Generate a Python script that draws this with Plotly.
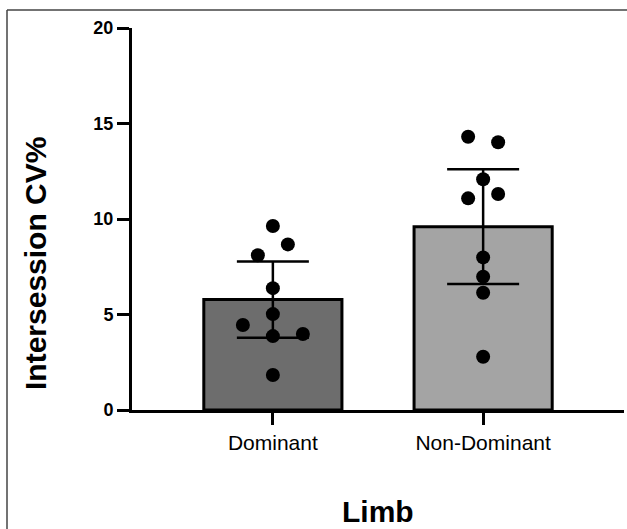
import numpy as np
import plotly.graph_objects as go

# ---- data ----
categories = ["Dominant", "Non-Dominant"]
bar_means = [5.78, 9.6]
bar_sd = [2.0, 3.0]
dominant_values = [9.63, 8.67, 8.10, 6.38, 5.02, 4.45, 3.87, 3.98, 1.83]
nondominant_values = [14.31, 14.02, 12.08, 11.08, 11.31, 7.99, 6.98, 6.14, 2.79]
# swarm slot of each dot (in marker-width steps left/right of the category centre)
dominant_slots = [0, 1, -1, 0, 0, -2, 0, 2, 0]
nondominant_slots = [-1, 1, 0, -1, 1, 0, 0, 0, 0]
y_ticks = [0, 5, 10, 15, 20]

W, H = 627, 529
L, R, T, B = 132, 3, 28, 119
plot_w = W - L - R
plot_h = H - T - B
x_range = [-0.67, 1.67]
px_per_unit = plot_w / (x_range[1] - x_range[0])
slot_step = 15 / px_per_unit

def px_to_paper_x(px):
    return (px - L) / plot_w

def py_to_paper_y(py):
    return (H - B - py) / plot_h

fig = go.Figure()
xs = list(range(len(categories)))
fig.add_trace(go.Bar(
    x=xs, y=bar_means, width=0.657,
    marker=dict(color=["#6d6d6d", "#a4a4a4"], line=dict(color="black", width=3)),
    error_y=dict(type="data", array=bar_sd, visible=True, color="black",
                 thickness=2.5, width=36),
    showlegend=False, hoverinfo="skip",
))

for i, (vals, slots) in enumerate([(dominant_values, dominant_slots),
                                   (nondominant_values, nondominant_slots)]):
    fig.add_trace(go.Scatter(
        x=[i + s * slot_step for s in slots], y=vals, mode="markers",
        marker=dict(color="black", size=14, line=dict(width=0)),
        showlegend=False,
    ))

fig.update_layout(
    width=W, height=H,
    margin=dict(l=L, r=R, t=T, b=B, autoexpand=False),
    paper_bgcolor="white", plot_bgcolor="white",
    font=dict(family="Liberation Sans, Arial, sans-serif", color="black"),
    xaxis=dict(range=x_range, tickvals=xs, ticktext=categories,
               showline=True, linewidth=3, linecolor="black",
               ticks="outside", ticklen=12, tickwidth=3, tickcolor="black",
               showgrid=False, zeroline=False,
               tickfont=dict(size=21, family="Liberation Sans")),
    yaxis=dict(range=[0, 20], tickvals=y_ticks,
               showline=True, linewidth=3, linecolor="black",
               ticks="outside", ticklen=12, tickwidth=3, tickcolor="black",
               showgrid=False, zeroline=False,
               tickfont=dict(size=18, family="Liberation Sans", weight="bold")),
    annotations=[
        dict(text="<b>Intersession CV%</b>", textangle=-90, showarrow=False,
             xref="paper", yref="paper", x=px_to_paper_x(35), y=py_to_paper_y(264),
             xanchor="center", yanchor="middle",
             font=dict(size=30, family="Liberation Sans", color="black")),
        dict(text="<b>Limb</b>", showarrow=False,
             xref="paper", yref="paper", x=0.5, y=py_to_paper_y(512),
             xanchor="center", yanchor="middle",
             font=dict(size=30, family="Liberation Sans", color="black")),
    ],
    shapes=[
        dict(type="line", xref="paper", yref="paper",
             x0=px_to_paper_x(7), x1=px_to_paper_x(640),
             y0=py_to_paper_y(10), y1=py_to_paper_y(10),
             line=dict(color="#444444", width=1.5)),
        dict(type="line", xref="paper", yref="paper",
             x0=px_to_paper_x(7), x1=px_to_paper_x(7),
             y0=py_to_paper_y(10), y1=py_to_paper_y(540),
             line=dict(color="#444444", width=1.5)),
    ],
)

fig.write_html("out.html", config={"displayModeBar": False},
               post_script="document.body.style.margin='0';document.body.style.overflow='hidden';")
